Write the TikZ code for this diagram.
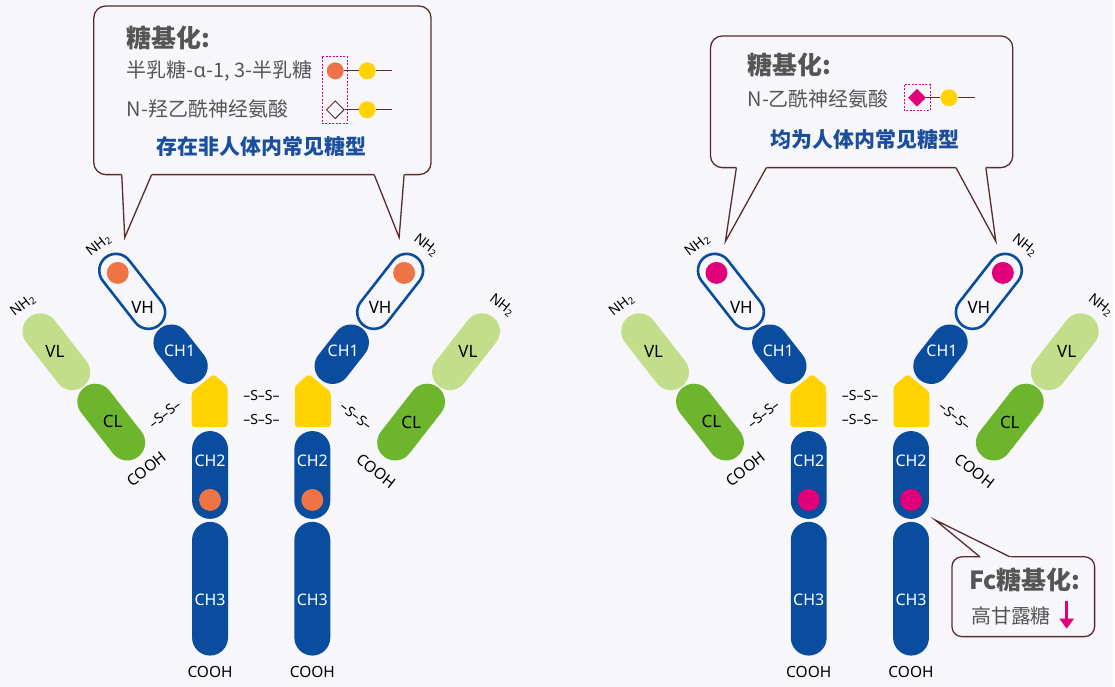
\documentclass[tikz,border=0pt]{standalone}
\usepackage{fontspec}
\setmainfont{Noto Sans}
\newfontfamily\cjk{Noto Sans CJK SC}
\usetikzlibrary{shapes.misc,shapes.geometric,arrows.meta,calc}

\definecolor{bgcol}{HTML}{F7F7FB}
\definecolor{hblue}{HTML}{0A4C9E}
\definecolor{hinge}{HTML}{FFD200}
\definecolor{vlgreen}{HTML}{C3DE8B}
\definecolor{clgreen}{HTML}{6CB52C}
\definecolor{galdot}{HTML}{EE7446}
\definecolor{siadot}{HTML}{E2007A}
\definecolor{tipline}{HTML}{5B2B2B}
\definecolor{txtgray}{HTML}{555555}
\definecolor{txtblue}{HTML}{1B4F9C}

\tikzset{
  dom/.style={rounded rectangle, inner sep=0pt, minimum height=36pt},
  vh/.style={rounded rectangle, inner sep=0pt, minimum height=33.4pt,
    minimum width=86.4pt, draw=hblue, line width=2.6pt, fill=bgcol},
  ch1/.style={dom, fill=hblue, minimum width=66pt},
  vl/.style={dom, fill=vlgreen, minimum width=88pt},
  cl/.style={dom, fill=clgreen, minimum width=88pt},
  ch2/.style={dom, fill=hblue, minimum width=88pt, rotate=90},
  ch3/.style={dom, fill=hblue, minimum width=134pt, rotate=90},
  hingebox/.style={fill=hinge, rounded corners=3pt},
  glydot/.style={circle, inner sep=0pt, minimum size=22pt},
  dlab/.style={inner sep=0pt, font=\fontsize{17}{17}\selectfont},
  wlab/.style={inner sep=0pt, text=white, font=\fontsize{16}{16}\selectfont},
  term/.style={inner sep=0pt, font=\fontsize{15.5}{15.5}\selectfont},
  nterm/.style={inner sep=0pt, font=\fontsize{14}{14}\selectfont},
  ss/.style={inner sep=0pt, font=\fontsize{14}{14}\selectfont},
  callout/.style={draw=tipline, line width=1.3pt, fill=bgcol, rounded corners=12pt},
  tipdraw/.style={draw=tipline, line width=1.3pt},
  gtitle/.style={inner sep=0pt, text=txtgray, font=\cjk\bfseries\fontsize{25}{25}\selectfont},
  gtext/.style={inner sep=0pt, text=txtgray, font=\cjk\fontsize{20}{20}\selectfont},
  gblue/.style={inner sep=0pt, text=txtblue, font=\cjk\bfseries\fontsize{21}{21}\selectfont},
  sugar/.style={circle, inner sep=0pt, minimum size=17pt},
  sialic/.style={diamond, inner sep=0pt, minimum width=18pt, minimum height=18pt},
  dashbox/.style={draw=siadot, line width=0.8pt, dash pattern=on 2pt off 1.5pt},
  bond/.style={draw=tipline, line width=0.9pt}
}

% pointer of a callout: base point, tip, base point
\newcommand{\calltip}[3]{%
  \fill[bgcol] ($(#2)!1.05!(#1)$) -- (#2) -- ($(#2)!1.05!(#3)$) -- cycle;
  \draw[tipdraw] (#1) -- (#2) -- (#3);}

\begin{document}
\begin{tikzpicture}[x=1pt,y=-1pt]
\fill[bgcol] (0,0) rectangle (1115,688);

% two antibodies, the second one 600pt to the right
\foreach \k/\dx/\gly in {a/0/galdot, b/600/siadot} {
\begin{scope}[xshift=\dx pt]
  % light chains
  \node[vl, rotate=-52] (vlL\k) at (56.5,352.5) {};
  \node[cl, rotate=-52] (clL\k) at (111.5,423) {};
  \node[vl, rotate=52] (vlR\k) at (467,352.5) {};
  \node[cl, rotate=52] (clR\k) at (412,423) {};
  % heavy chains
  \node[vh, rotate=-52] (vhL\k) at (132.5,292) {};
  \node[ch1, rotate=-52] (chaL\k) at (181,355) {};
  \node[vh, rotate=52] (vhR\k) at (391,292) {};
  \node[ch1, rotate=52] (chaR\k) at (342.5,355) {};
  \fill[hingebox] (192,393) -- (214,375) -- (228,387) -- (228,428) -- (192,428) -- cycle;
  \fill[hingebox] (331.5,393) -- (309.5,375) -- (295.5,387) -- (295.5,428) -- (331.5,428) -- cycle;
  \node[ch2] (chbL\k) at (210.5,476) {};
  \node[ch3] (chcL\k) at (210.5,590) {};
  \node[ch2] (chbR\k) at (313,476) {};
  \node[ch3] (chcR\k) at (313,590) {};
  % glycans
  \node[glydot, fill=\gly] (gvL\k) at (118,273.5) {};
  \node[glydot, fill=\gly] (gvR\k) at (405,273.5) {};
  \node[glydot, fill=\gly] (gfL\k) at (210.5,501) {};
  \node[glydot, fill=\gly] (gfR\k) at (313,501) {};
  % domain names
  \node[dlab] at (143,308) {VH};
  \node[dlab] at (381,308) {VH};
  \node[dlab] at (55,352) {VL};
  \node[dlab] at (469,352) {VL};
  \node[dlab] at (113,422) {CL};
  \node[dlab] at (412,423) {CL};
  \node[wlab] at (180,352) {CH1};
  \node[wlab] at (344,352) {CH1};
  \node[wlab] at (210.5,462) {CH2};
  \node[wlab] at (313,462) {CH2};
  \node[wlab] at (210.5,601) {CH3};
  \node[wlab] at (313,601) {CH3};
  % termini
  \node[nterm, rotate=38] at (99,246) {NH\textsubscript{2}};
  \node[nterm, rotate=38] at (23,306) {NH\textsubscript{2}};
  \node[nterm, rotate=-38] at (427,246) {NH\textsubscript{2}};
  \node[nterm, rotate=-38] at (503,306) {NH\textsubscript{2}};
  \node[term, rotate=38] at (147,470) {COOH};
  \node[term, rotate=-38] at (377,472) {COOH};
  \node[term] at (210.5,673) {COOH};
  \node[term] at (313,673) {COOH};
  % disulfide bonds
  \node[ss] at (262,396) {–S–S–};
  \node[ss] at (262,420) {–S–S–};
  \node[ss, rotate=38] at (165,415) {–S–S–};
  \node[ss, rotate=-38] at (357,417) {–S–S–};
\end{scope}
}

% callout of the first antibody
\node[callout, minimum width=338pt, minimum height=169pt] (boxa) at (263,90.5) {};
\coordinate (pa1) at (122,175); \coordinate (pa2) at (125,238); \coordinate (pa3) at (152,175);
\coordinate (pa4) at (375,175); \coordinate (pa5) at (400,238); \coordinate (pa6) at (405,175);
\calltip{pa1}{pa2}{pa3}
\calltip{pa4}{pa5}{pa6}
\node[gtitle, anchor=west] at (127,38) {糖基化:};
\node[gtext, anchor=west] at (127,71) {半乳糖-{\rmfamily α}-1, 3-半乳糖};
\node[gtext, anchor=west] at (127,109) {N-羟乙酰神经氨酸};
\node[gblue] at (262,147) {存在非人体内常见糖型};
\draw[dashbox] (323,57) rectangle (348,124);
\node[sugar, fill=galdot] (gala) at (336,71) {};
\node[sugar, fill=hinge] (galb) at (368,71) {};
\coordinate (gale) at (393,71);
\draw[bond] (gala) -- (galb) -- (gale);
\node[sialic, draw=tipline, fill=bgcol, line width=1pt] (neugc) at (336,110) {};
\node[sugar, fill=hinge] (galc) at (368,110) {};
\coordinate (galf) at (393,110);
\draw[bond] (neugc) -- (galc) -- (galf);

% callout of the second antibody
\node[callout, minimum width=303pt, minimum height=132pt] (boxb) at (863.5,102) {};
\coordinate (pb1) at (738,168); \coordinate (pb2) at (727,242); \coordinate (pb3) at (768,168);
\coordinate (pb4) at (958,168); \coordinate (pb5) at (998,242); \coordinate (pb6) at (988,168);
\calltip{pb1}{pb2}{pb3}
\calltip{pb4}{pb5}{pb6}
\node[gtitle, anchor=west] at (749,65) {糖基化:};
\node[gtext, anchor=west] at (749,99) {N-乙酰神经氨酸};
\node[gblue] at (867,140) {均为人体内常见糖型};
\draw[dashbox] (906,85) rectangle (932,111);
\node[sialic, fill=siadot] (neuac) at (919,98) {};
\node[sugar, fill=hinge] (gald) at (951,98) {};
\coordinate (galg) at (977,98);
\draw[bond] (neuac) -- (gald) -- (galg);

% Fc callout
\node[callout, rounded corners=10pt, minimum width=143pt, minimum height=80pt] (boxc) at (1025.5,598) {};
\coordinate (pc1) at (982,558); \coordinate (pc2) at (937,521); \coordinate (pc3) at (1012,558);
\calltip{pc1}{pc2}{pc3}
\node[gtitle] at (1027,581) {Fc糖基化:};
\node[gtext, anchor=west] at (973,617) {高甘露糖};
\coordinate (dn1) at (1069,602); \coordinate (dn2) at (1069,630);
\draw[siadot, line width=3.5pt, -{Triangle[length=10pt,width=14pt]}] (dn1) -- (dn2);
\end{tikzpicture}
\end{document}
